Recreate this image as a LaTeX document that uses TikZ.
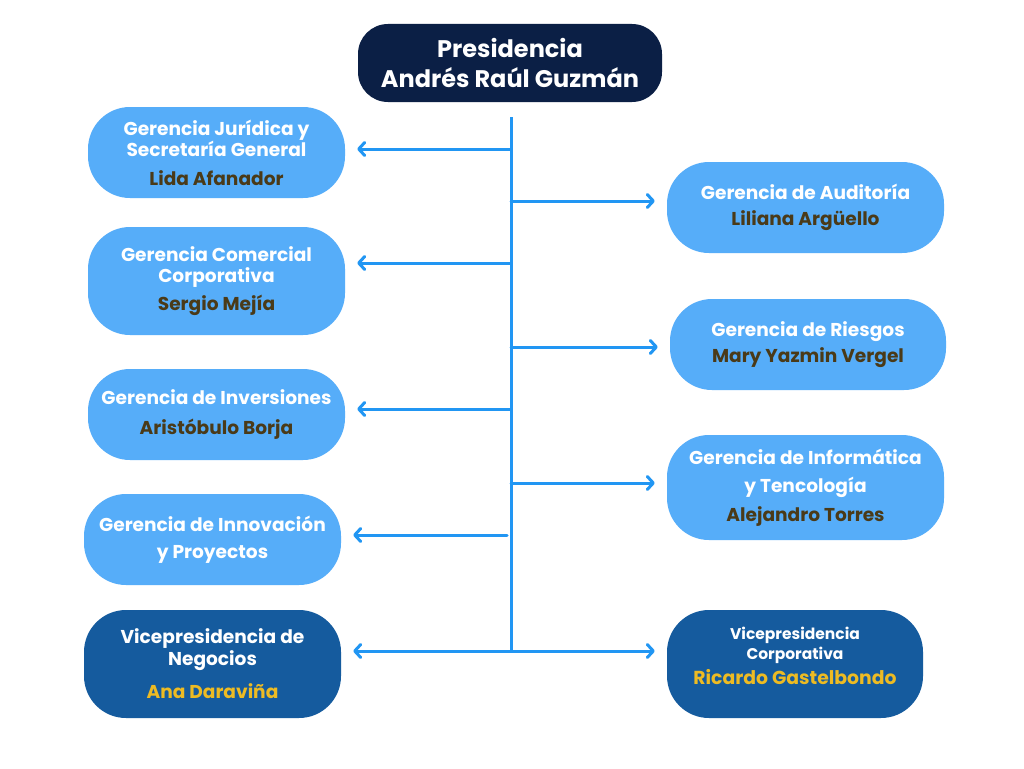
\documentclass[tikz,border=0pt]{standalone}
\usepackage{fontspec}
\setmainfont{Poppins}[UprightFont=* SemiBold, BoldFont=* Bold]
\usetikzlibrary{arrows.meta}
\definecolor{navy}{HTML}{0B1F45}
\definecolor{lightb}{HTML}{56ADF9}
\definecolor{darkb}{HTML}{155B9E}
\definecolor{arrc}{HTML}{2196F3}
\definecolor{brownt}{HTML}{4A3A18}
\definecolor{yellowt}{HTML}{EDBB23}
\tikzset{
  pill/.style={rounded corners=42pt, inner sep=0pt, align=center, text=white},
  light/.style={pill, fill=lightb},
  dark/.style={pill, fill=darkb},
  arr/.style={draw=arrc, line width=3pt, line cap=round, -{Straight Barb[length=6pt,width=13pt,line width=3pt,round]}, shorten >=12pt},
  arr2/.style={arr, {Straight Barb[length=6pt,width=13pt,line width=3pt,round]}-{Straight Barb[length=6pt,width=13pt,line width=3pt,round]}, shorten <=12pt},
  ttl/.style={font=\fontsize{18.6}{21.5}\bfseries},
}
\newcommand{\nm}[1]{{\color{brownt}#1}}
\newcommand{\nmy}[1]{{\color{yellowt}#1}}
\begin{document}
\begin{tikzpicture}[x=1pt,y=-1pt]
\fill[white] (0,0) rectangle (1024,768);
\useasboundingbox (0,0) rectangle (1024,768);
% president
\node[pill, fill=navy, minimum width=304pt, minimum height=78pt, font=\fontsize{24}{30}\bfseries, rounded corners=30pt] (P) at (510,63) {Presidencia\\Andrés Raúl Guzmán};
% left boxes
\node[light, minimum width=257pt, minimum height=91pt, ttl] (L1) at (216.5,152.5) {Gerencia Jurídica y\\Secretaría General\\[7pt]\nm{Lida Afanador}};
\node[light, minimum width=257pt, minimum height=108pt, ttl] (L2) at (216.5,281) {Gerencia Comercial\\Corporativa\\[6pt]\nm{Sergio Mejía}};
\node[light, minimum width=257pt, minimum height=91pt, ttl] (L3) at (216.5,414.5) {Gerencia de Inversiones\\[8pt]\nm{Aristóbulo Borja}};
\node[light, minimum width=257pt, minimum height=91pt, ttl] (L4) at (212.5,539.5) {Gerencia de Innovación\\[6pt]y Proyectos};
\node[dark, minimum width=257pt, minimum height=108pt, ttl] (L5) at (212.5,664) {Vicepresidencia de\\Negocios\\[12pt]\nmy{Ana Daraviña}};
% right boxes
\node[light, minimum width=277pt, minimum height=91pt, ttl] (R1) at (805.5,207.5) {Gerencia de Auditoría\\[4pt]\nm{Liliana Argüello}};
\node[light, minimum width=276pt, minimum height=91pt, ttl] (R2) at (808,344.5) {Gerencia de Riesgos\\[4pt]\nm{Mary Yazmin Vergel}};
\node[light, minimum width=277pt, minimum height=105pt, ttl] (R3) at (805.5,487.5) {Gerencia de Informática\\[7pt]y Tencología\\[7pt]\nm{Alejandro Torres}};
\node[dark, minimum width=256pt, minimum height=108pt, font=\fontsize{15.5}{19.5}\bfseries] (R4) at (795,664) {Vicepresidencia\\Corporativa\\[6pt]\nmy{\fontsize{18.8}{22}\selectfont Ricardo Gastelbondo}\\[-4pt]\mbox{}};
% trunk
\coordinate (top) at (511,117);
\coordinate (bot) at (511,651);
\draw[draw=arrc, line width=3pt] (top) -- (bot);
\coordinate (t1) at (511,149);
\coordinate (t2) at (511,263);
\coordinate (t3) at (511,409);
\coordinate (t4) at (507,535);
\coordinate (s1) at (511,201);
\coordinate (s2) at (511,347);
\coordinate (s3) at (511,483);
\draw[arr] (t1) -- (t1 -| L1.east);
\draw[arr] (t2) -- (t2 -| L2.east);
\draw[arr] (t3) -- (t3 -| L3.east);
\draw[arr] (t4) -- (t4 -| L4.east);
\draw[arr] (s1) -- (s1 -| R1.west);
\draw[arr] (s2) -- (s2 -| R2.west);
\draw[arr] (s3) -- (s3 -| R3.west);
\draw[arr2] (bot -| L5.east) -- (bot -| R4.west);
\end{tikzpicture}
\end{document}
